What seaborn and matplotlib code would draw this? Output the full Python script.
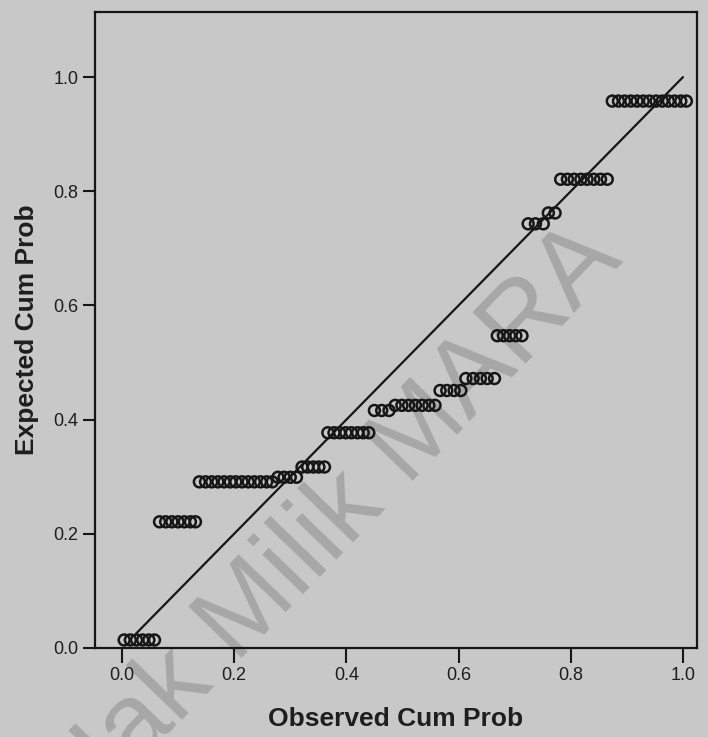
import matplotlib
matplotlib.use("Agg")
import matplotlib.pyplot as plt
import seaborn as sns
import pandas as pd

# expected cum prob of each group of tied values, and the observed cum prob of each point in it
expected_levels = [0.014, 0.221, 0.291, 0.299, 0.317, 0.377, 0.416, 0.425,
                   0.451, 0.472, 0.547, 0.743, 0.762, 0.821, 0.958]
observed_groups = [
    [0.004, 0.015, 0.026, 0.037, 0.048, 0.058],
    [0.067, 0.078, 0.089, 0.100, 0.111, 0.122, 0.131],
    [0.138, 0.149, 0.160, 0.171, 0.182, 0.193, 0.203, 0.214, 0.225, 0.236, 0.247, 0.258, 0.268],
    [0.278, 0.289, 0.300, 0.311],
    [0.321, 0.331, 0.341, 0.351, 0.361],
    [0.367, 0.378, 0.388, 0.399, 0.409, 0.420, 0.430, 0.440],
    [0.450, 0.463, 0.476],
    [0.487, 0.499, 0.511, 0.523, 0.535, 0.547, 0.558],
    [0.567, 0.579, 0.592, 0.604],
    [0.613, 0.626, 0.639, 0.651, 0.664],
    [0.669, 0.680, 0.691, 0.702, 0.713],
    [0.724, 0.737, 0.751],
    [0.760, 0.772],
    [0.782, 0.794, 0.806, 0.818, 0.829, 0.841, 0.853, 0.865],
    [0.874, 0.885, 0.896, 0.907, 0.918, 0.929, 0.940, 0.952, 0.963, 0.974, 0.985, 0.996, 1.006],
]

# reference diagonal
diag_x = [0.025, 1.0]
diag_y = [0.025, 1.0]

ticks = [0.0, 0.2, 0.4, 0.6, 0.8, 1.0]
tick_labels = ["0.0", "0.2", "0.4", "0.6", "0.8", "1.0"]

rows = []
for level, obs in zip(expected_levels, observed_groups):
    for o in obs:
        rows.append({"Observed Cum Prob": o, "Expected Cum Prob": level})
df = pd.DataFrame(rows)

sns.set_style("white")
plt.rcParams["font.family"] = ["Liberation Sans", "DejaVu Sans"]

bg = "#c8c8c8"
ink = "#161616"
fig = plt.figure(figsize=(7.08, 7.37), dpi=100)
fig.patch.set_facecolor(bg)
ax = fig.add_axes([0.1342, 0.1208, 0.8503, 0.8629])
ax.set_facecolor("none")

# scan watermark
fig.text(0.47, 0.29, "Hak Milik MARA", fontsize=78, color="#9c9c9c", alpha=0.75,
         rotation=46, ha="center", va="center", zorder=-1)

sns.lineplot(x=diag_x, y=diag_y, color=ink, linewidth=1.6, ax=ax)
sns.scatterplot(data=df, x="Observed Cum Prob", y="Expected Cum Prob", ax=ax,
                marker="o", s=62, facecolor="none", edgecolor=ink, linewidth=1.8)

ax.set_xlim(-0.048, 1.025)
ax.set_ylim(0.0, 1.114)
ax.set_xticks(ticks)
ax.set_xticklabels(tick_labels)
ax.set_yticks(ticks)
ax.set_yticklabels(tick_labels)
ax.tick_params(axis="both", direction="out", length=9, width=1.5, color=ink,
               labelsize=13, labelcolor="#1e1e1e", pad=3)
ax.tick_params(axis="x", bottom=True, length=11)
ax.tick_params(axis="y", left=True)
for sp in ax.spines.values():
    sp.set_color(ink)
    sp.set_linewidth(1.6)

ax.set_xlabel("Observed Cum Prob", fontsize=19, fontweight="bold", color="#1e1e1e", labelpad=16)
ax.set_ylabel("Expected Cum Prob", fontsize=19, fontweight="bold", color="#1e1e1e", labelpad=10)

fig.savefig("out.png", dpi=100, facecolor=bg)
